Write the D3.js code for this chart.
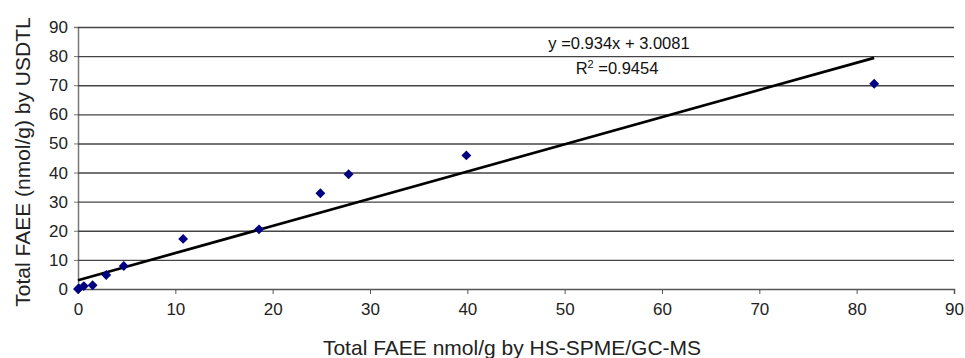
<!DOCTYPE html>
<html>
<head>
<meta charset="utf-8">
<script src="https://cdn.jsdelivr.net/npm/d3@7"></script>
<style>
  body { margin: 0; background: #fff; }
  svg { font-family: "Liberation Sans", Arial, sans-serif; }
</style>
</head>
<body>
<script>
// measured values (HS-SPME/GC-MS vs USDTL)
const xValues = [0, 0.1, 0.6, 1.5, 2.9, 4.7, 10.8, 18.6, 24.9, 27.8, 39.9, 81.8];
const yValues = [0, 0.2, 1.0, 1.3, 4.8, 7.9, 17.2, 20.5, 32.9, 39.4, 45.9, 70.5];
const ticks = [0, 10, 20, 30, 40, 50, 60, 70, 80, 90];
const slope = 0.934;
const intercept = 3.0081;
const rSquared = 0.9454;

const width = 965;
const height = 358;
const margin = { top: 27, right: 11, bottom: 69, left: 78 };

const points = xValues.map((x, i) => ({ x, y: yValues[i] }));

const svg = d3.select('body').append('svg')
    .attr('width', width)
    .attr('height', height);

const x = d3.scaleLinear()
    .domain([0, 90])
    .range([margin.left, width - margin.right]);

const y = d3.scaleLinear()
    .domain([0, 90])
    .range([height - margin.bottom, margin.top]);

// horizontal gridlines + y axis
svg.append('g')
    .attr('transform', `translate(${margin.left},0)`)
    .call(d3.axisLeft(y).tickValues(ticks).tickSize(4).tickPadding(6))
    .call(g => g.select('.domain').attr('stroke', '#777').attr('stroke-width', 1.5))
    .call(g => g.selectAll('.tick line').attr('stroke', '#777'))
    .call(g => g.selectAll('.tick text')
        .attr('fill', '#222')
        .style('font-size', '17px')
        .style('font-family', '"Liberation Sans", Arial, sans-serif'))
    .call(g => g.selectAll('.tick')
        .filter(d => d > 0)
        .append('line')
        .attr('x2', width - margin.left - margin.right)
        .attr('stroke', '#444')
        .attr('stroke-width', 1.4));

// x axis
svg.append('g')
    .attr('transform', `translate(0,${height - margin.bottom})`)
    .call(d3.axisBottom(x).tickValues(ticks).tickSize(5).tickPadding(9))
    .call(g => g.select('.domain').attr('stroke', '#555').attr('stroke-width', 1.5))
    .call(g => g.selectAll('.tick line').attr('stroke', '#555'))
    .call(g => g.selectAll('.tick text')
        .attr('fill', '#222')
        .style('font-size', '17px')
        .style('font-family', '"Liberation Sans", Arial, sans-serif'));

// trendline across observed x range
const xMax = d3.max(xValues);
const trend = [{ x: 0 }, { x: xMax }].map(d => ({ x: d.x, y: slope * d.x + intercept }));

svg.append('path')
    .datum(trend)
    .attr('fill', 'none')
    .attr('stroke', '#000')
    .attr('stroke-width', 2.7)
    .attr('d', d3.line().x(d => x(d.x)).y(d => y(d.y)));

// diamond markers
svg.append('g')
    .selectAll('path')
    .data(points)
    .join('path')
    .attr('transform', d => `translate(${x(d.x)},${y(d.y)})`)
    .attr('d', d3.symbol(d3.symbolDiamond2, 62))
    .attr('fill', '#000080');

// equation labels
svg.append('text')
    .attr('x', 619)
    .attr('y', 49)
    .attr('text-anchor', 'middle')
    .style('font-size', '16.5px')
    .attr('fill', '#111')
    .text(`y =${slope}x + ${intercept}`);

const r2 = svg.append('text')
    .attr('x', 617)
    .attr('y', 74)
    .attr('text-anchor', 'middle')
    .style('font-size', '16.5px')
    .attr('fill', '#111');
r2.append('tspan').text('R');
r2.append('tspan').attr('dy', -6).style('font-size', '11px').text('2');
r2.append('tspan').attr('dy', 6).text(` =${rSquared}`);

// axis titles
svg.append('text')
    .attr('transform', `translate(30,162) rotate(-90)`)
    .attr('text-anchor', 'middle')
    .style('font-size', '21px')
    .attr('fill', '#222')
    .text('Total FAEE (nmol/g) by USDTL');

svg.append('text')
    .attr('x', 512)
    .attr('y', 355)
    .attr('text-anchor', 'middle')
    .style('font-size', '21px')
    .attr('fill', '#222')
    .text('Total FAEE nmol/g by HS-SPME/GC-MS');
</script>
</body>
</html>
